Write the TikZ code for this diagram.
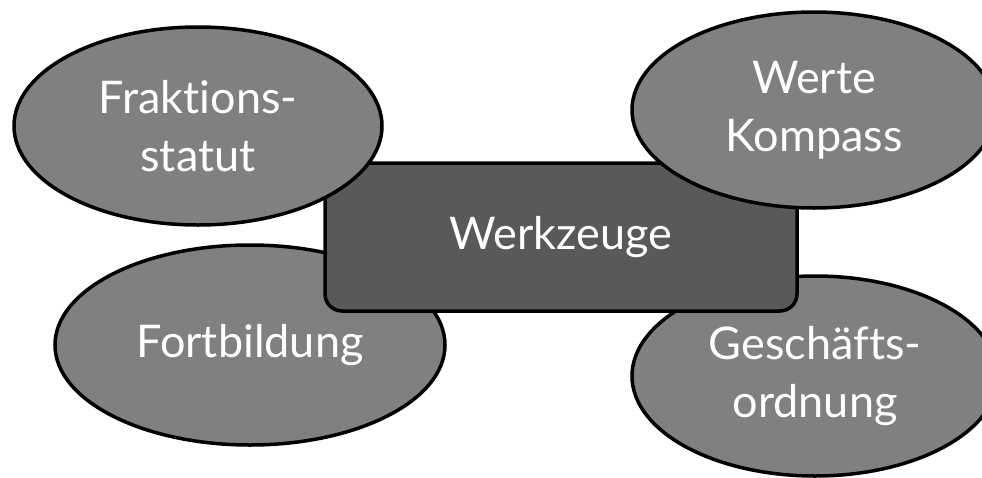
\documentclass[tikz,border=0pt]{standalone}
\usepackage{fontspec}
\setmainfont{Lato}[Ligatures=NoCommon]
\usepackage{tikz}
\usetikzlibrary{shapes.geometric}

\definecolor{blobgray}{gray}{0.5}
\definecolor{boxgray}{gray}{0.35}

\begin{document}
\begin{tikzpicture}[x=1pt,y=-1pt,
	blob/.style={ellipse, draw=black, line width=3.5pt, fill=blobgray, text=white, inner sep=0pt, align=center, font=\fontsize{45}{58}\selectfont},
	toolbox/.style={rectangle, rounded corners=17pt, draw=black, line width=3.5pt, fill=boxgray, text=white, minimum width=472pt, minimum height=148pt, font=\fontsize{45}{58}\selectfont}]
		\useasboundingbox (0,0) rectangle (982,477);
		
		% the two lower ones lie under the box
		\node[blob, minimum width=390pt, minimum height=200pt] (fortbildung) at (250,345) {Fortbildung};
		\node[blob, minimum width=366pt, minimum height=200pt] (geschaeft) at (815,376) {Geschäfts-\\ordnung};
		
		\node[toolbox] (werkzeuge) at (561,237) {Werkzeuge};
		
		% the two upper ones lie over it
		\node[blob, minimum width=368pt, minimum height=198pt] (fraktion) at (198,126) {Fraktions-\\statut};
		\node[blob, minimum width=364pt, minimum height=196pt] (werte) at (814,110) {Werte\\Kompass};
		
	\end{tikzpicture}
\end{document}
